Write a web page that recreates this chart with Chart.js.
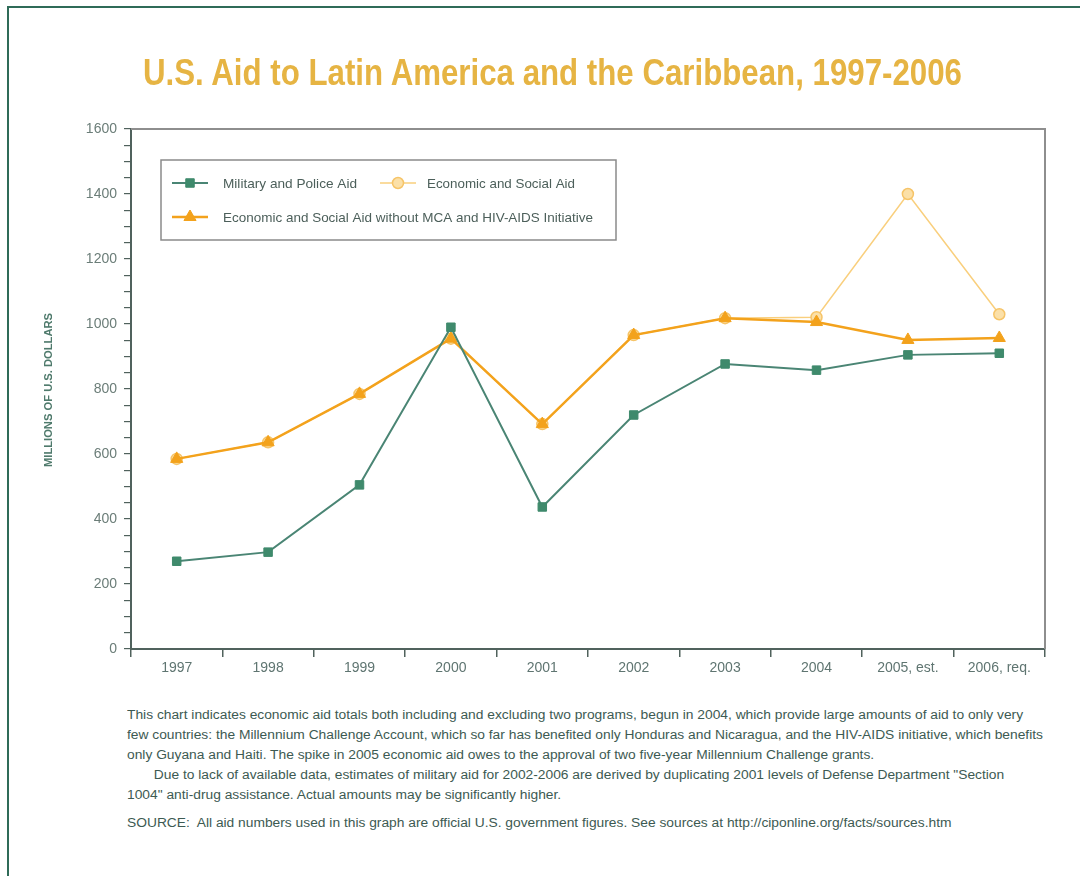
<!DOCTYPE html>
<html>
<head>
<meta charset="utf-8">
<script src="https://cdn.jsdelivr.net/npm/chart.js@4.4.0/dist/chart.umd.min.js"></script>
<style>
  html, body { margin: 0; padding: 0; background: #fff; }
  body { width: 1080px; height: 876px; position: relative; overflow: hidden; }
  #frame { position: absolute; left: 7px; top: 6px; width: 1100px; height: 900px;
           border-top: 2px solid #2f6b58; border-left: 2px solid #2f6b58; }
  #title { position: absolute; top: 52px; left: 143px; white-space: nowrap;
           font: bold 37px "Liberation Sans Narrow", "Liberation Sans", sans-serif;
           color: #e6b443; transform-origin: 0 0; }
  #ytitle { position: absolute; white-space: nowrap;
            font: bold 10px "Liberation Sans Narrow", "Liberation Sans", sans-serif;
            color: #4f7a6c; transform-origin: 0 0; }
  #wrap { position: absolute; left: 0; top: 0; width: 1080px; height: 690px; }
  #notes { position: absolute; left: 127px; top: 705px; white-space: nowrap;
           font: 12.5px/20px "Liberation Sans Narrow", "Liberation Sans", sans-serif;
           color: #3d5a52; transform-origin: 0 0; }
  #notes p { margin: 0; }
  #notes .src { margin-top: 8px; }
</style>
</head>
<body>
<div id="frame"></div>
<div id="wrap"><canvas id="grafico" width="1080" height="690"></canvas></div>
<div id="title">U.S. Aid to Latin America and the Caribbean, 1997-2006</div>
<div id="ytitle">MILLIONS OF U.S. DOLLARS</div>
<div id="notes">
  <p>This chart indicates economic aid totals both including and excluding two programs, begun in 2004, which provide large amounts of aid to only very<br>
  few countries: the Millennium Challenge Account, which so far has benefited only Honduras and Nicaragua, and the HIV-AIDS initiative, which benefits<br>
  only Guyana and Haiti. The spike in 2005 economic aid owes to the approval of two five-year Millennium Challenge grants.<br>
  &nbsp;&nbsp;&nbsp;&nbsp;&nbsp;&nbsp;&nbsp;Due to lack of available data, estimates of military aid for 2002-2006 are derived by duplicating 2001 levels of Defense Department "Section<br>
  1004" anti-drug assistance. Actual amounts may be significantly higher.</p>
  <p class="src">SOURCE:&nbsp; All aid numbers used in this graph are official U.S. government figures. See sources at http://ciponline.org/facts/sources.htm</p>
</div>
<script>
const anos = ['1997', '1998', '1999', '2000', '2001', '2002', '2003', '2004', '2005, est.', '2006, req.'];
const ajudaMilitar = [270, 298, 505, 990, 437, 720, 877, 858, 905, 910];
const ajudaEconomica = [585, 636, 785, 955, 692, 966, 1018, 1021, 1400, 1030];
const ajudaEconomicaSemMCA = [585, 636, 785, 955, 692, 966, 1018, 1006, 951, 957];
const rotulosY = [0, 200, 400, 600, 800, 1000, 1200, 1400, 1600];

const verde = '#3f8a6c';
const laranja = '#f3a21c';
const laranjaClaro = '#f9cf7d';
const fonteNarrow = '"Liberation Sans Narrow", "Liberation Sans", sans-serif';

const ajustarLargura = (el, largura) => {
    const w = el.getBoundingClientRect().width;
    el.style.transform = `scaleX(${largura / w})`;
};

ajustarLargura(document.getElementById('title'), 819);
ajustarLargura(document.getElementById('notes'), 916);

const yt = document.getElementById('ytitle');
const ytW = yt.getBoundingClientRect().width;
const ytH = yt.getBoundingClientRect().height;
yt.style.left = (48 - ytH / 2) + 'px';
yt.style.top = (390 + 154 / 2) + 'px';
yt.style.transform = `rotate(-90deg) scaleX(${154 / ytW})`;

// moldura do grafico e legenda desenhadas no canvas
const molduraLegenda = {
    id: 'molduraLegenda',
    afterDraw(chart) {
        const { ctx, chartArea: a } = chart;
        ctx.save();
        ctx.strokeStyle = '#8e8e8e';
        ctx.lineWidth = 2;
        ctx.beginPath();
        ctx.moveTo(a.left, a.top);
        ctx.lineTo(a.right, a.top);
        ctx.lineTo(a.right, a.bottom);
        ctx.stroke();

        // caixa da legenda
        ctx.fillStyle = '#fff';
        ctx.fillRect(161, 160, 455, 80);
        ctx.strokeStyle = '#8a8a8a';
        ctx.lineWidth = 1.5;
        ctx.strokeRect(161, 160, 455, 80);

        const itens = [
            { ds: 0, x: 172, y: 183, tx: 223, w: 134 },
            { ds: 1, x: 380, y: 183, tx: 427, w: 148 },
            { ds: 2, x: 172, y: 217, tx: 223, w: 370 }
        ];
        ctx.font = '13px ' + fonteNarrow;
        ctx.textBaseline = 'middle';
        itens.forEach(it => {
            const d = chart.data.datasets[it.ds];
            ctx.strokeStyle = d.borderColor;
            ctx.lineWidth = d.borderWidth;
            ctx.beginPath();
            ctx.moveTo(it.x, it.y);
            ctx.lineTo(it.x + 36, it.y);
            ctx.stroke();
            ctx.fillStyle = d.pointBackgroundColor;
            ctx.strokeStyle = d.pointBorderColor;
            ctx.lineWidth = d.pointBorderWidth;
            Chart.helpers.drawPoint(ctx, {
                pointStyle: d.pointStyle, radius: d.pointRadius,
                borderWidth: d.pointBorderWidth, rotation: 0
            }, it.x + 18, it.y);
            ctx.fillStyle = '#4c5f5a';
            const mw = ctx.measureText(d.label).width;
            ctx.save();
            ctx.translate(it.tx, it.y + 1);
            ctx.scale(it.w / mw, 1);
            ctx.fillText(d.label, 0, 0);
            ctx.restore();
        });
        ctx.restore();
    }
};

const ctx = document.getElementById('grafico').getContext('2d');
new Chart(ctx, {
    type: 'line',
    data: {
        labels: anos,
        datasets: [
            {
                label: 'Military and Police Aid',
                data: ajudaMilitar,
                order: 1,
                borderColor: '#4a8574',
                borderWidth: 2,
                pointStyle: 'rect',
                pointRadius: 6,
                pointBackgroundColor: verde,
                pointBorderColor: verde,
                pointBorderWidth: 1
            },
            {
                label: 'Economic and Social Aid',
                data: ajudaEconomica,
                order: 3,
                borderColor: laranjaClaro,
                borderWidth: 1.5,
                pointStyle: 'circle',
                pointRadius: 5.5,
                pointBackgroundColor: '#fbe0a8',
                pointBorderColor: '#f6c468',
                pointBorderWidth: 1.5
            },
            {
                label: 'Economic and Social Aid without MCA and HIV-AIDS Initiative',
                data: ajudaEconomicaSemMCA,
                order: 2,
                borderColor: laranja,
                borderWidth: 2.5,
                pointStyle: 'triangle',
                pointRadius: 7,
                pointBackgroundColor: laranja,
                pointBorderColor: laranja,
                pointBorderWidth: 1
            }
        ]
    },
    options: {
        responsive: false,
        animation: false,
        layout: { padding: { left: 0, top: 129, right: 35, bottom: 0 } },
        plugins: {
            legend: { display: false },
            title: { display: false },
            tooltip: { enabled: false }
        },
        scales: {
            x: {
                offset: true,
                afterFit: (s) => { s.height = 41; },
                grid: {
                    offset: true, drawOnChartArea: false, tickLength: 8,
                    color: '#50625d', lineWidth: 1.5
                },
                border: { color: '#50625d', width: 2 },
                ticks: {
                    color: '#5f7571', padding: 3,
                    font: { family: fonteNarrow, size: 14 },
                    maxRotation: 0, autoSkip: false
                }
            },
            y: {
                min: rotulosY[0],
                max: rotulosY[rotulosY.length - 1],
                afterFit: (s) => { s.width = 131; },
                grid: {
                    drawOnChartArea: false, tickLength: 7,
                    color: '#50625d', lineWidth: 1.2
                },
                border: { color: '#50625d', width: 2 },
                ticks: {
                    stepSize: 50, autoSkip: false, padding: 7,
                    color: '#6b7d78',
                    font: { family: fonteNarrow, size: 14 },
                    callback: (v) => rotulosY.includes(v) ? String(v) : ''
                }
            }
        }
    },
    plugins: [molduraLegenda]
});
</script>
</body>
</html>
